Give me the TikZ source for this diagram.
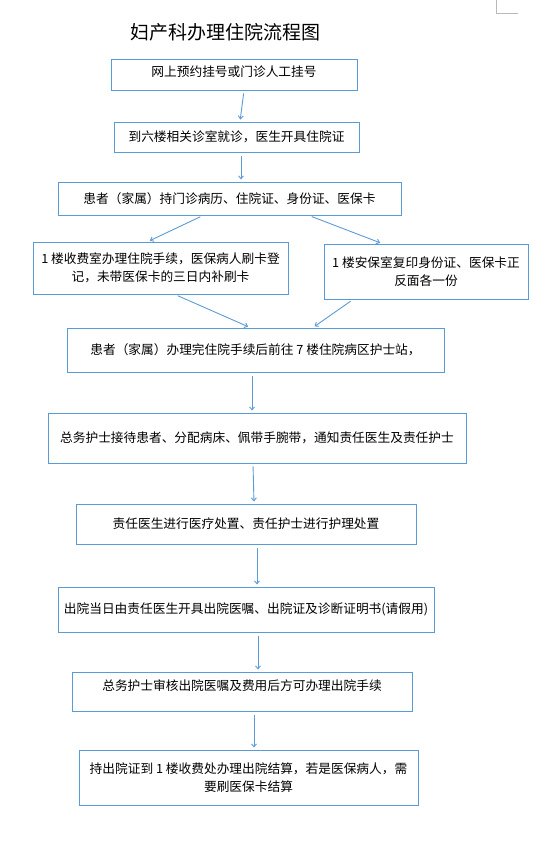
\documentclass[tikz,border=0pt]{standalone}
\usepackage{fontspec}
\newfontfamily\cjk{Noto Sans CJK SC}
\usetikzlibrary{arrows.meta}
\usetikzlibrary{positioning}
\definecolor{lineblue}{HTML}{5B9BD5}

\begin{document}
\begin{tikzpicture}[
  x=1pt, y=-1pt,
  box/.style   = {draw=lineblue, line width=1pt, inner sep=0pt, align=center,
                  font=\cjk\fontsize{12.7}{18}\selectfont},
  flow/.style  = {draw=lineblue, line width=0.9pt, -{Straight Barb[length=3pt,width=5pt]},
                  shorten <=3pt, shorten >=2pt},
  headline/.style = {font=\cjk\fontsize{19}{22}\selectfont}
]
  \useasboundingbox (0,0) rectangle (553,843);
  \draw[gray!55, line width=0.6pt] (496,0) -- (496,13) -- (518,13);

  \node[headline] (title) at (225,32) {妇产科办理住院流程图};

  \node[box, minimum width=246pt, minimum height=30pt, text depth=7.5pt] (reg)   at (234,75)    {网上预约挂号或门诊人工挂号};
  \node[box, minimum width=245pt, minimum height=30pt] (clinic) at (236.5,137) {到六楼相关诊室就诊，医生开具住院证};
  \node[box, minimum width=343pt, minimum height=33pt] (docs)   at (229.5,198.5) {患者（家属）持门诊病历、住院证、身份证、医保卡};
  \node[box, minimum width=255pt, minimum height=52pt] (fee)    at (160.5,268) {1 楼收费室办理住院手续，医保病人刷卡登\\记，未带医保卡的三日内补刷卡};
  \node[box, minimum width=204pt, minimum height=55pt] (copy)   at (426,271.5) {1 楼安保室复印身份证、医保卡正\\反面各一份};
  \node[box, minimum width=377pt, minimum height=44pt] (ward)   at (255.5,350) {患者（家属）办理完住院手续后前往 7 楼住院病区护士站，};
  \node[box, minimum width=418pt, minimum height=50pt] (nurse)  at (257,438)   {总务护士接待患者、分配病床、佩带手腕带，通知责任医生及责任护士};
  \node[box, minimum width=340pt, minimum height=40pt] (care)   at (246,524)   {责任医生进行医疗处置、责任护士进行护理处置};
  \node[box, minimum width=376pt, minimum height=45pt] (leave)  at (246,609.5) {出院当日由责任医生开具出院医嘱、出院证及诊断证明书(请假用)};
  \node[box, minimum width=340pt, minimum height=39pt, text depth=13.5pt] (check) at (242,691.5) {总务护士审核出院医嘱及费用后方可办理出院手续};
  \node[box, minimum width=339pt, minimum height=55pt] (settle) at (248.5,777.5) {持出院证到 1 楼收费处办理出院结算，若是医保病人，需\\要刷医保卡结算};

  \draw[flow] ([xshift=10pt]reg.south)      -- ([xshift=3.5pt]clinic.north);
  \draw[flow] ([xshift=4.5pt]clinic.south)  -- ([xshift=11.5pt]docs.north);
  \draw[flow] ([xshift=-26.5pt]docs.south)  -- ([xshift=-12.5pt]fee.north);
  \draw[flow] ([xshift=79.5pt]docs.south)   -- ([xshift=-44pt]copy.north);
  \draw[flow] ([xshift=14.5pt]fee.south)    -- ([xshift=-5.5pt]ward.north);
  \draw[flow] ([xshift=-73pt]copy.south)    -- ([xshift=57.5pt]ward.north);
  \draw[flow] ([xshift=-3.5pt]ward.south)   -- ([xshift=-5pt]nurse.north);
  \draw[flow] ([xshift=-4pt]nurse.south)    -- ([xshift=8pt]care.north);
  \draw[flow] ([xshift=11pt]care.south)     -- ([xshift=11pt]leave.north);
  \draw[flow] ([xshift=12pt]leave.south)    -- ([xshift=16pt]check.north);
  \draw[flow] ([xshift=12pt]check.south)    -- ([xshift=5.5pt]settle.north);
\end{tikzpicture}
\end{document}
